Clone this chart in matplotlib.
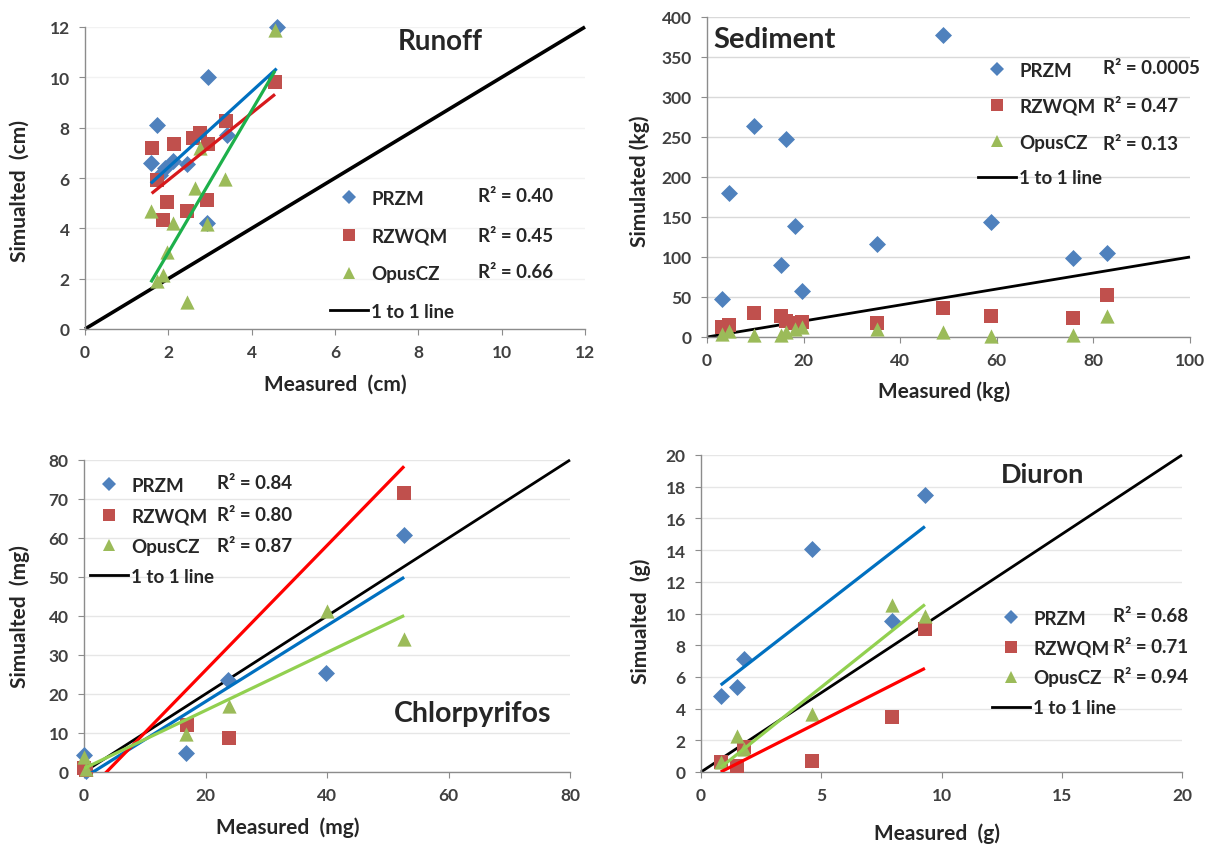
import numpy as np
import matplotlib
matplotlib.use("Agg")
import matplotlib.pyplot as plt
from matplotlib.lines import Line2D

plt.rcParams['font.family'] = ['Lato', 'DejaVu Sans']

# ---------------- data ----------------
models = ["PRZM", "RZWQM", "OpusCZ"]

# Runoff (cm)
runoff_przm_x = [4.6, 2.95, 1.73, 3.4, 1.58, 2.12, 1.92, 2.45, 1.8, 2.92]
runoff_przm_y = [12.0, 10.0, 8.1, 7.7, 6.6, 6.68, 6.38, 6.55, 6.1, 4.23]
runoff_rzwqm_x = [4.56, 3.38, 2.77, 2.6, 2.96, 2.13, 1.6, 1.72, 1.97, 2.92, 2.45, 1.88]
runoff_rzwqm_y = [9.8, 8.27, 7.78, 7.6, 7.34, 7.34, 7.2, 5.93, 5.05, 5.13, 4.7, 4.34]
runoff_opus_x = [4.56, 2.76, 3.36, 2.64, 1.58, 2.12, 2.92, 1.96, 1.88, 1.73, 2.44]
runoff_opus_y = [11.9, 7.2, 5.98, 5.62, 4.7, 4.23, 4.17, 3.04, 2.14, 1.92, 1.06]
runoff_trend = [(1.51, 3.4), (1.33, 3.26), (2.82, -2.6)]   # slope, intercept
runoff_r2 = ["0.40", "0.45", "0.66"]

# Sediment (kg)
sed_x = [3.2, 4.6, 9.8, 15.3, 16.3, 18.2, 19.6, 35.3, 48.8, 58.9, 75.8, 82.9]
sed_przm = [47, 180, 264, 90, 247, 139, 57, 116, 377, 144, 99, 105]
sed_rzwqm = [12, 15, 30, 26, 20, 18, 19, 17, 36, 26, 24, 53]
sed_opus = [4, 7, 2, 3, 6, 10, 12, 10, 6, 1, 2, 26]
sed_r2 = ["0.0005", "0.47", "0.13"]

# Chlorpyrifos (mg)
chl_przm_x = [0, 0.4, 16.8, 23.7, 39.9, 52.7]
chl_przm_y = [4.4, 0.3, 4.9, 23.7, 25.3, 60.8]
chl_rzwqm_x = [0, 0.4, 16.9, 23.8, 52.7]
chl_rzwqm_y = [1.0, 0.5, 12.0, 8.7, 71.5]
chl_opus_x = [0, 0.4, 16.8, 23.8, 40.0, 52.7]
chl_opus_y = [3.8, 0.8, 9.7, 17.0, 41.4, 34.1]
chl_trend = [(0.975, -1.46), (1.60, -5.93), (0.744, 0.9)]
chl_r2 = ["0.84", "0.80", "0.87"]

# Diuron (g)
diu_x = [0.82, 1.48, 1.80, 4.6, 7.95, 9.31]
diu_przm = [4.78, 5.35, 7.1, 14.1, 9.5, 17.5]
diu_rzwqm = [0.6, 0.4, 1.55, 0.71, 3.45, 9.0]
diu_opus = [0.6, 2.29, 1.45, 3.66, 10.55, 9.86]
diu_trend = [(1.178, 4.52), (0.77, -0.63), (1.21, -0.7)]
diu_r2 = ["0.68", "0.71", "0.94"]

# ---------------- style ----------------
W, H = 1208, 845
mk_col = ["#4F81BD", "#C0504D", "#9BBB59"]
mk_sym = ["D", "s", "^"]
mk_size = [75, 105, 105]
txt_col = "#262626"
tick_col = "#404040"
spine_col = "#8C8C8C"

fig = plt.figure(figsize=(W / 100, H / 100), dpi=100)


def px_axes(left, right, top, bottom):
    return fig.add_axes([left / W, 1 - bottom / H, (right - left) / W, (bottom - top) / H])


def style_axes(ax, xmax, ymax, xstep, ystep, xlabel, ylabel, xl_pos, yl_pos, grid_col):
    ax.set_xlim(0, xmax)
    ax.set_ylim(0, ymax)
    ax.set_xticks(np.arange(0, xmax + xstep / 2, xstep))
    ax.set_yticks(np.arange(0, ymax + ystep / 2, ystep))
    for s in ["top", "right"]:
        ax.spines[s].set_visible(False)
    for s in ["left", "bottom"]:
        ax.spines[s].set_color(spine_col)
        ax.spines[s].set_linewidth(1.0)
    ax.tick_params(direction="out", length=4, color=spine_col, labelcolor=tick_col,
                   labelsize=12.5, pad=7)
    for lab in ax.get_xticklabels() + ax.get_yticklabels():
        lab.set_fontweight("bold")
    ax.yaxis.grid(True, color=grid_col, linewidth=1.0)
    ax.set_axisbelow(True)
    ax.set_xlabel(xlabel, fontsize=15, fontweight="bold", color=txt_col)
    ax.set_ylabel(ylabel, fontsize=15, fontweight="bold", color=txt_col)
    ax.xaxis.set_label_coords(*xl_pos)
    ax.yaxis.set_label_coords(*yl_pos)
    ax.xaxis.label.set_va("center")
    ax.yaxis.label.set_va("center")


def scatter_sets(ax, xs, ys):
    for i in range(3):
        ax.scatter(xs[i], ys[i], marker=mk_sym[i], s=mk_size[i], color=mk_col[i],
                   linewidths=0, zorder=3, clip_on=False)


def trend_lines(ax, xs, coefs, colors):
    for i in range(3):
        x = np.array([min(xs[i]), max(xs[i])])
        m, b = coefs[i]
        ax.plot(x, m * x + b, color=colors[i], linewidth=2.3, zorder=4,
                solid_capstyle="butt")


def one_to_one(ax, vmax, lw):
    ax.plot([0, vmax], [0, vmax], color="black", linewidth=lw, zorder=2,
            solid_capstyle="butt", clip_on=False)


def legend_block(ax, box_left, first_top, spacing, r2_x, r2_ys, r2s, line_len=2.0):
    handles = [Line2D([], [], marker=mk_sym[i], color=mk_col[i], linestyle="none",
                      markersize=[7, 8, 8][i], markeredgewidth=0) for i in range(3)]
    handles.append(Line2D([], [], color="black", linewidth=2.0))
    leg = ax.legend(handles, models + ["1 to 1 line"], loc="upper left",
                    bbox_to_anchor=(box_left / W, 1 - first_top / H),
                    bbox_transform=fig.transFigure, frameon=False, borderpad=0,
                    borderaxespad=0, handlelength=line_len, handletextpad=0.2,
                    labelspacing=spacing,
                    prop={"size": 13.5, "weight": "bold"})
    for t in leg.get_texts():
        t.set_color(txt_col)
    for y, r in zip(r2_ys, r2s):
        fig.text(r2_x / W, 1 - y / H, "R² = " + r, fontsize=13.5,
                 fontweight="bold", color=txt_col, va="center", ha="left")


# ---------------- Runoff ----------------
ax1 = px_axes(85, 585, 28, 330)
style_axes(ax1, 12, 12, 2, 2, "Measured  (cm)", "Simualted  (cm)",
           (0.5, -0.182), (-0.13, 0.46), "#F2F2F2")
one_to_one(ax1, 12, 2.6)
rx = [runoff_przm_x, runoff_rzwqm_x, runoff_opus_x]
ry = [runoff_przm_y, runoff_rzwqm_y, runoff_opus_y]
scatter_sets(ax1, rx, ry)
trend_lines(ax1, rx, runoff_trend, ["#0070C0", "#D7191C", "#1DB04B"])
ax1.text(0.71, 0.955, "Runoff", transform=ax1.transAxes, ha="center", va="center",
         fontsize=20, fontweight="bold", color=txt_col)
legend_block(ax1, 330, 191, 1.1, 478, [197, 237, 272], runoff_r2)

# ---------------- Sediment ----------------
ax2 = px_axes(707, 1190, 18, 338)
style_axes(ax2, 100, 400, 20, 50, "Measured (kg)", "Simulated (kg)",
           (0.49, -0.169), (-0.139, 0.49), "#D9D9D9")
one_to_one(ax2, 100, 2.0)
scatter_sets(ax2, [sed_x] * 3, [sed_przm, sed_rzwqm, sed_opus])
ax2.text(0.013, 0.93, "Sediment", transform=ax2.transAxes, ha="left", va="center",
         fontsize=21, fontweight="bold", color=txt_col)
legend_block(ax2, 978, 63, 1.0, 1103, [69, 106, 145], sed_r2)

# ---------------- Chlorpyrifos ----------------
ax3 = px_axes(84, 570, 461, 773)
style_axes(ax3, 80, 80, 20, 10, "Measured  (mg)", "Simualted  (mg)",
           (0.42, -0.176), (-0.132, 0.5), "#E6E6E6")
one_to_one(ax3, 80, 2.0)
cx = [chl_przm_x, chl_rzwqm_x, chl_opus_x]
cy = [chl_przm_y, chl_rzwqm_y, chl_opus_y]
scatter_sets(ax3, cx, cy)
trend_lines(ax3, cx, chl_trend, ["#0070C0", "#FF0000", "#92D050"])
ax3.text(0.80, 0.19, "Chlorpyrifos", transform=ax3.transAxes, ha="center", va="center",
         fontsize=20.5, fontweight="bold", color=txt_col)
legend_block(ax3, 90, 478, 0.71, 217, [484, 516, 546], chl_r2)

# ---------------- Diuron ----------------
ax4 = px_axes(701, 1182, 456, 773)
style_axes(ax4, 20, 20, 5, 2, "Measured  (g)", "Simualted  (g)",
           (0.49, -0.19), (-0.125, 0.48), "#E6E6E6")
one_to_one(ax4, 20, 2.0)
scatter_sets(ax4, [diu_x] * 3, [diu_przm, diu_rzwqm, diu_opus])
trend_lines(ax4, [diu_x] * 3, diu_trend, ["#0070C0", "#FF0000", "#92D050"])
ax4.text(0.711, 0.94, "Diuron", transform=ax4.transAxes, ha="center", va="center",
         fontsize=19.5, fontweight="bold", color=txt_col)
legend_block(ax4, 992, 611, 0.68, 1113, [617, 648, 678], diu_r2)

fig.savefig("out.png", dpi=100)
